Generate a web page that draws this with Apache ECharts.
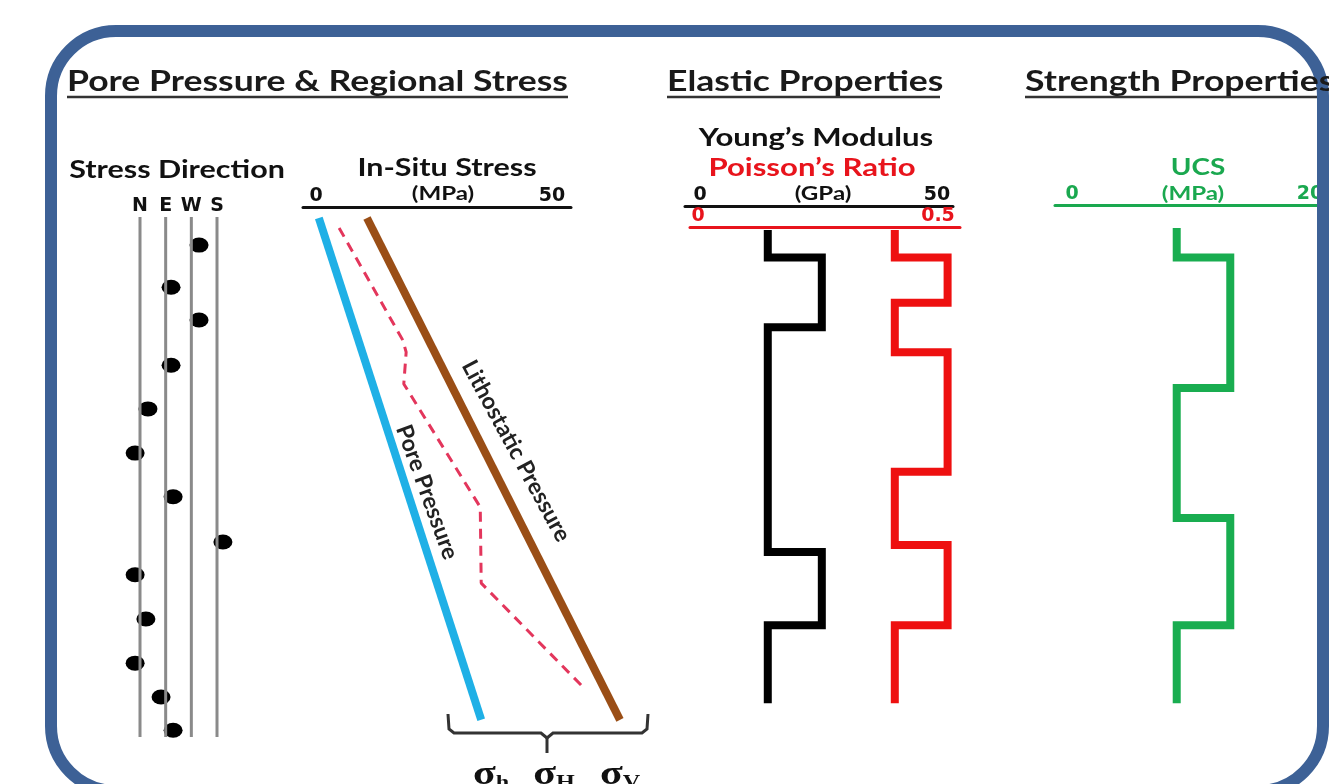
<!DOCTYPE html>
<html>
<head>
<meta charset="utf-8">
<script src="https://cdn.jsdelivr.net/npm/echarts@6/dist/echarts.min.js"></script>
<style>html,body{margin:0;padding:0;background:#fff}#c{width:1329px;height:784px}</style>
</head>
<body>
<div id="c"></div>
<script>
// ---------------- DATA ----------------
// Stress direction (N=0, E=1, W=2, S=3) with depth (0 = top, 100 = bottom)
const DIR_LABELS = ['N', 'E', 'W', 'S'];
const DIR_POS = [0, 1, 2, 3];
const DIR_LINE_DEPTH = [0, 100];
const DIR_DOT_X = [2.30, 1.21, 2.30, 1.21, 0.31, -0.19, 1.29, 3.23, -0.19, 0.23, -0.19, 0.82, 1.29];
const DIR_DOT_DEPTH = [5.4, 13.5, 19.8, 28.5, 36.9, 45.4, 53.8, 62.5, 68.8, 77.3, 85.8, 92.3, 98.7];

// In-situ stress (MPa) vs depth
const STRESS_DEPTH = [0.2, 96.7];
const PORE_PRESSURE = [0.6, 35.0];        // sigma_h side (blue)
const LITHOSTATIC = [10.8, 64.4];         // sigma_V (brown)
const SIGMA_H_MPA = [4.9, 18.4, 19.1, 18.6, 34.8, 35.0, 56.8];
const SIGMA_H_DEPTH = [2.1, 23.7, 26.0, 32.1, 55.8, 70.4, 90.6];
const STRESS_TICKS = [0, 50];

// Young's modulus (GPa) layers
const YM_TOPS = [2.5, 7.8, 21.2, 64.4, 78.5];
const YM_VALUES = [14.3, 25.7, 14.3, 25.7, 14.3];
const YM_BASE = 93.5;
const YM_TICKS = [0, 50];

// Poisson's ratio layers
const PR_TOPS = [2.5, 7.8, 16.5, 26.0, 49.0, 63.1, 78.5];
const PR_VALUES = [0.41, 0.52, 0.41, 0.52, 0.41, 0.52, 0.41];
const PR_BASE = 93.5;
const PR_TICKS = [0, 0.5];

// UCS (MPa) layers
const UCS_TOPS = [2.1, 7.8, 32.9, 57.9, 78.5];
const UCS_VALUES = [8.8, 13.3, 8.8, 13.3, 8.8];
const UCS_BASE = 93.5;
const UCS_TICKS = [0, 20];

// ---------------- LAYOUT ----------------
const Y0 = 217, PX = 5.2;     // depth 0 at y=217, 5.2 px per depth unit
const FONT = 'Lato, "Open Sans", sans-serif';
const LFONT = '"DejaVu Sans", sans-serif';
const SX = 1.27;              // horizontal stretch of the original picture
function steps(tops, vals, base) {
  const pts = [];
  for (let i = 0; i < tops.length; i++) {
    const bot = i + 1 < tops.length ? tops[i + 1] : base;
    pts.push([vals[i], tops[i]], [vals[i], bot]);
  }
  return pts;
}
function gridAt(left, width, lineY) {
  return { left: left, width: width, top: lineY, height: Y0 + 100 * PX - lineY };
}
function yAx(gi, lineY) {
  return { gridIndex: gi, type: 'value', inverse: true, min: (lineY - Y0) / PX, max: 100, show: false };
}
function xAx(gi, min, max, ticks, color, labelFmt, fs) {
  return {
    gridIndex: gi, type: 'value', position: 'top', min: min, max: max,
    show: ticks !== null,
    splitLine: { show: false }, axisTick: { show: false },
    axisLine: { show: !!color, onZero: false, lineStyle: { color: color || '#000', width: 3 } },
    axisLabel: {
      customValues: ticks || [], margin: 1, color: color || '#111', fontFamily: LFONT,
      fontWeight: 'bold', fontSize: fs || 19, formatter: labelFmt
    }
  };
}

const grids = [
  gridAt(140 - 0.5 * 25.67, 4 * 25.67, Y0),  // 0 stress direction
  gridAt(303, 268, 207),                     // 1 in-situ stress axis
  gridAt(685, 268, 206),                     // 2 Young's modulus
  gridAt(690, 270, 227),                     // 3 Poisson's ratio
  gridAt(1055, 270, 205),                    // 4 UCS
  gridAt(303, 400, 207)                      // 5 in-situ stress data area (same scale, wider)
];
const xAxes = [
  xAx(0, -0.5, 3.5, DIR_POS, null, v => DIR_LABELS[Math.round(v)], 19),
  xAx(1, -13 / 4.72, 255 / 4.72, STRESS_TICKS, '#111'),
  xAx(2, -15 / 4.74, 253 / 4.74, YM_TICKS, '#111'),
  xAx(3, -8 / 480, 262 / 480, PR_TICKS, '#e8141c'),
  xAx(4, -17 / 11.9, 253 / 11.9, UCS_TICKS, '#1aa84f'),
  xAx(5, -13 / 4.72, 387 / 4.72, null, null)
];
const yAxes = [yAx(0, Y0), yAx(1, 207), yAx(2, 206), yAx(3, 227), yAx(4, 205), yAx(5, 207)];

const series = [];
DIR_POS.forEach(p => series.push({
  type: 'line', xAxisIndex: 0, yAxisIndex: 0, showSymbol: false, silent: true,
  lineStyle: { color: '#8a8a8a', width: 3 },
  data: DIR_LINE_DEPTH.map(d => [p, d])
}));
series.push({
  type: 'scatter', xAxisIndex: 0, yAxisIndex: 0, symbol: 'circle', symbolSize: [19, 15],
  itemStyle: { color: '#000', opacity: 1 },
  data: DIR_DOT_X.map((x, i) => [x, DIR_DOT_DEPTH[i]])
});
series.push({
  type: 'line', xAxisIndex: 5, yAxisIndex: 5, showSymbol: false,
  lineStyle: { color: '#1fb0e6', width: 8 },
  data: PORE_PRESSURE.map((v, i) => [v, STRESS_DEPTH[i]])
});
series.push({
  type: 'line', xAxisIndex: 5, yAxisIndex: 5, showSymbol: false,
  lineStyle: { color: '#9a4e16', width: 8 },
  data: LITHOSTATIC.map((v, i) => [v, STRESS_DEPTH[i]])
});
series.push({
  type: 'line', xAxisIndex: 5, yAxisIndex: 5, showSymbol: false,
  lineStyle: { color: '#e3365c', width: 3, type: [10, 7] },
  data: SIGMA_H_MPA.map((v, i) => [v, SIGMA_H_DEPTH[i]])
});
series.push({
  type: 'line', xAxisIndex: 2, yAxisIndex: 2, showSymbol: false,
  lineStyle: { color: '#000', width: 8, join: 'miter' },
  data: steps(YM_TOPS, YM_VALUES, YM_BASE)
});
series.push({
  type: 'line', xAxisIndex: 3, yAxisIndex: 3, showSymbol: false,
  lineStyle: { color: '#ee1010', width: 8, join: 'miter' },
  data: steps(PR_TOPS, PR_VALUES, PR_BASE)
});
series.push({
  type: 'line', xAxisIndex: 4, yAxisIndex: 4, showSymbol: false,
  lineStyle: { color: '#19ad50', width: 8, join: 'miter' },
  data: steps(UCS_TOPS, UCS_VALUES, UCS_BASE)
});

function txt(text, x, y, size, color, align, extra) {
  return Object.assign({
    type: 'text', x: x, y: y, z: 10, scaleX: SX,
    style: { text: text, fill: color || '#111', font: 'bold ' + size + 'px ' + FONT, textAlign: align || 'center', textVerticalAlign: 'middle' }
  }, extra || {});
}
function sigma(sub, x) {
  return { type: 'text', x: x, y: 775, scaleX: SX, style: { text: '{s|σ}{b|' + sub + '}', textAlign: 'center', textVerticalAlign: 'middle',
    rich: { s: { font: 'bold 33px "Liberation Serif", serif', fill: '#111' },
            b: { font: 'bold 19px "Liberation Serif", serif', fill: '#111', padding: [16, 0, 0, 0] } } } };
}
const option = {
  animation: false,
  backgroundColor: '#fff',
  grid: grids, xAxis: xAxes, yAxis: yAxes, series: series,
  graphic: [
    { type: 'rect', z: 1, shape: { x: 51, y: 31, width: 1272, height: 760, r: 65 },
      style: { fill: 'none', stroke: '#3d6196', lineWidth: 12 } },
    txt('Pore Pressure & Regional Stress', 67, 82, 28, '#1a1a1a', 'left'),
    txt('Elastic Properties', 667, 82, 28, '#1a1a1a', 'left'),
    txt('Strength Properties', 1025, 82, 28, '#1a1a1a', 'left'),
    { type: 'line', shape: { x1: 67, y1: 97, x2: 568, y2: 97 }, style: { stroke: '#333', lineWidth: 2.5 } },
    { type: 'line', shape: { x1: 667, y1: 97, x2: 940, y2: 97 }, style: { stroke: '#333', lineWidth: 2.5 } },
    { type: 'line', shape: { x1: 1025, y1: 97, x2: 1329, y2: 97 }, style: { stroke: '#333', lineWidth: 2.5 } },
    txt('Stress Direction', 177, 170, 24),
    txt('In-Situ Stress', 447, 168, 24),
    txt('(MPa)', 443, 194, 19),
    txt('Young\u2019s Modulus', 816, 138, 24.5),
    txt('Poisson\u2019s Ratio', 812, 168, 24.5, '#e8141c'),
    txt('(GPa)', 823, 194, 19),
    txt('UCS', 1198, 168, 22, '#1aa84f'),
    txt('(MPa)', 1193, 194, 19, '#1aa84f'),
    txt('Pore Pressure', 427, 492, 23, '#222', 'center', { scaleX: 1, rotation: -70 * Math.PI / 180 }),
    txt('Lithostatic Pressure', 516, 451, 23, '#222', 'center', { scaleX: 1, rotation: -61.5 * Math.PI / 180 }),
    { type: 'polyline', shape: { points: [[448, 714], [449, 729], [454, 733], [541, 733], [547, 738], [553, 733], [642, 733], [647, 729], [648, 714]] },
      style: { stroke: '#333', lineWidth: 3, fill: 'none' } },
    { type: 'line', shape: { x1: 547, y1: 736, x2: 547, y2: 753 }, style: { stroke: '#333', lineWidth: 3 } },
    sigma('h', 491), sigma('H', 554), sigma('V', 620)
  ]
};
const chart = echarts.init(document.getElementById('c'), null, { renderer: 'canvas' });
chart.setOption(option);
</script>
</body>
</html>
